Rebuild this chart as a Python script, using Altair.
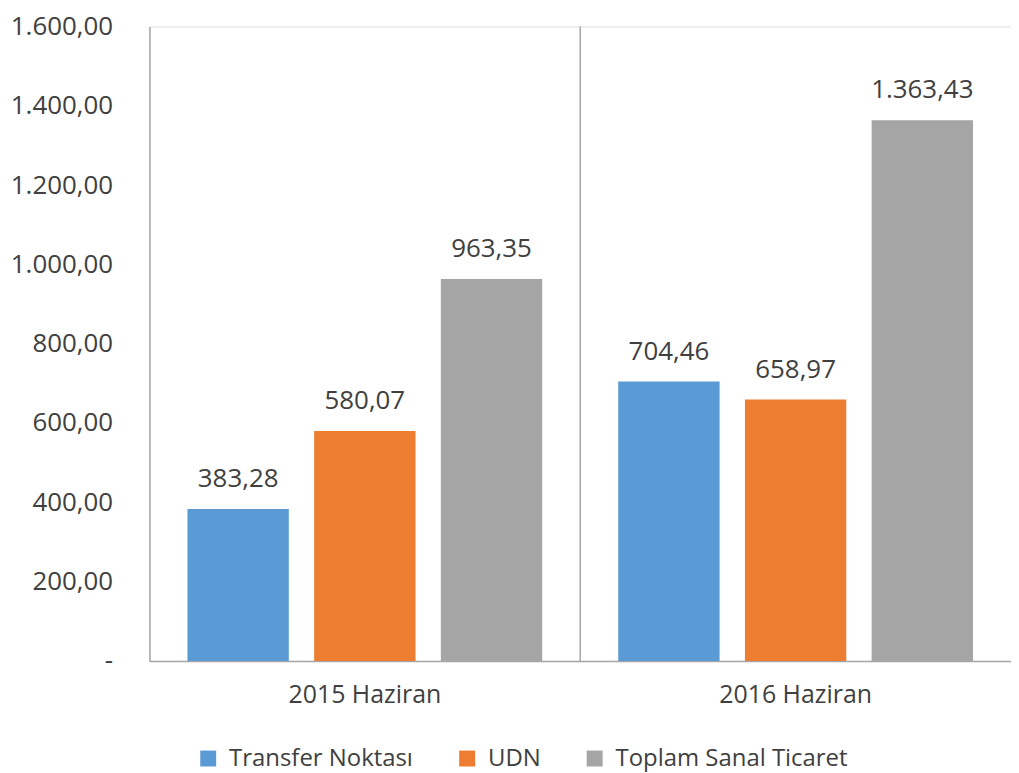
import altair as alt
import pandas as pd

periods = ["2015 Haziran", "2016 Haziran"]
series = ["Transfer Noktası", "UDN", "Toplam Sanal Ticaret"]
values_2015 = [383.28, 580.07, 963.35]
values_2016 = [704.46, 658.97, 1363.43]
colors = ["#5B9BD5", "#ED7D31", "#A5A5A5"]
y_ticks = [0, 200, 400, 600, 800, 1000, 1200, 1400, 1600]

rows = []
for p, vals in zip(periods, [values_2015, values_2016]):
    for s, v in zip(series, vals):
        rows.append({"period": p, "series": s, "value": v})
df = pd.DataFrame(rows)
sep_df = pd.DataFrame({"period": [periods[1]]})

TR_FMT = "replace(replace(replace(format({v}, ',.2f'), ',', '_'), '.', ','), '_', '.')"
FONT = "Open Sans"
TXT = "#404040"
LINE = "#A6A6A6"

x_enc = alt.X("period:N", sort=periods, scale=alt.Scale(paddingInner=0, paddingOuter=0),
              axis=alt.Axis(title=None, labelAngle=0, ticks=False, labelFontSize=25,
                            labelPadding=22, labelColor=TXT, labelFont=FONT,
                            domainColor=LINE, domainWidth=1.5))
xoff = alt.XOffset("series:N", sort=series,
                   scale=alt.Scale(paddingInner=0.2, paddingOuter=0.3))
y_enc = alt.Y("value:Q", scale=alt.Scale(domain=[0, 1600], nice=False),
              axis=alt.Axis(title=None, values=y_ticks, grid=False, ticks=False,
                            labelFontSize=26, labelPadding=37, labelColor=TXT, labelFont=FONT,
                            domainColor=LINE, domainWidth=1.5, labelLimit=0,
                            labelExpr="datum.value == 0 ? '-' : " + TR_FMT.format(v="datum.value")))

base = alt.Chart(df)
bars = base.mark_bar().encode(
    x=x_enc, xOffset=xoff, y=y_enc,
    color=alt.Color("series:N", sort=series,
                    scale=alt.Scale(domain=series, range=colors),
                    legend=alt.Legend(title=None, orient="none", direction="horizontal",
                                      legendX=47, legendY=723, symbolType="square",
                                      symbolSize=256, symbolStrokeWidth=0, labelLimit=0,
                                      labelFontSize=24, labelFont=FONT, labelColor=TXT,
                                      columnPadding=42, labelOffset=9)),
)
labels = base.mark_text(fontSize=26, font=FONT, color=TXT, baseline="middle", dy=-30).transform_calculate(
    lab=TR_FMT.format(v="datum.value")
).encode(
    x=alt.X("period:N", sort=periods), xOffset=alt.XOffset("series:N", sort=series), y="value:Q",
    text="lab:N",
)
sep = alt.Chart(sep_df).mark_rule(color=LINE, strokeWidth=1.5).encode(
    x=alt.X("period:N", sort=periods, bandPosition=0)
)

chart = alt.layer(bars, labels, sep).properties(
    width=865, height=637, padding={"left": 2, "top": 4, "right": 0, "bottom": 0}
).configure_view(stroke=None).configure(background="white")

chart.save("out.html", embed_options={"renderer": "svg", "actions": False})
